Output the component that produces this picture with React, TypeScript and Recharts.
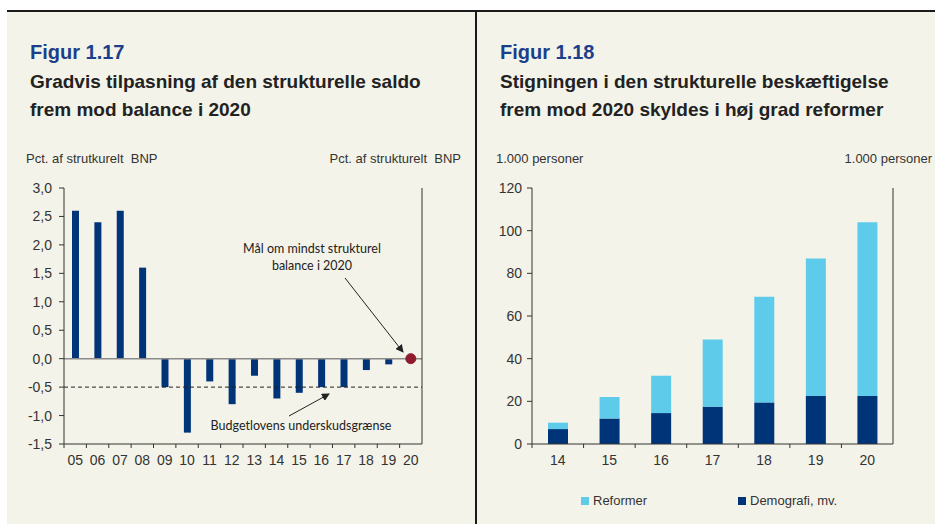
import React from "react";
import {
  ComposedChart,
  BarChart,
  Bar,
  XAxis,
  YAxis,
  ReferenceLine,
  ReferenceDot,
} from "recharts";

// Figur 1.17 - strukturel saldo, pct. af strukturelt BNP
const years = ["05", "06", "07", "08", "09", "10", "11", "12", "13", "14", "15", "16", "17", "18", "19", "20"];
const saldo = [2.6, 2.4, 2.6, 1.6, -0.5, -1.3, -0.4, -0.8, -0.3, -0.7, -0.6, -0.5, -0.5, -0.2, -0.1, null];
const saldoTicks = [-1.5, -1.0, -0.5, 0, 0.5, 1.0, 1.5, 2.0, 2.5, 3.0];
const budgetLimit = -0.5;
const target2020 = 0;

// Figur 1.18 - strukturel beskæftigelse, 1.000 personer
const years2 = ["14", "15", "16", "17", "18", "19", "20"];
const demografi = [7, 12, 14.5, 17.5, 19.5, 22.5, 22.5];
const reformer = [3, 10, 17.5, 31.5, 49.5, 64.5, 81.5];
const personTicks = [0, 20, 40, 60, 80, 100, 120];

const BG = "#f4f3e9";
const DARK = "#003478";
const LIGHT = "#5ecbea";
const TEXT = "#333";
const AXIS_FONT = "'Liberation Sans', Arial, sans-serif";
const TITLE_FONT = "'Liberation Sans Narrow', 'Arial Narrow', 'Liberation Sans', sans-serif";

const saldoData = years.map((y, i) => ({ year: y, saldo: saldo[i] }));
const jobData = years2.map((y, i) => ({ year: y, demografi: demografi[i], reformer: reformer[i] }));

const fmt = (v: number) => v.toFixed(1).replace(".", ",");
const tickStyle = { fontSize: 14, fill: TEXT, fontFamily: AXIS_FONT };

// x tick with small boundary mark to the left of each category
const makeTick = (band: number) => (props: any) => {
  const { x, y, payload } = props;
  const axisY = y - 11;
  return (
    <g>
      <line x1={x - band / 2} x2={x - band / 2} y1={axisY} y2={axisY + 4} stroke={TEXT} />
      <text x={x} y={y} dy="0.71em" textAnchor="middle" {...tickStyle}>
        {payload.value}
      </text>
    </g>
  );
};

const Title = ({ left, fig, l1, l2 }: { left: number; fig: string; l1: string; l2: string }) => (
  <div style={{ position: "absolute", left, top: 40, fontFamily: TITLE_FONT, fontWeight: "bold" }}>
    <div style={{ color: "#1b3f8b", fontSize: 20, lineHeight: "24px" }}>{fig}</div>
    <div style={{ color: "#222", fontSize: 19, lineHeight: "28px", marginTop: 4 }}>{l1}</div>
    <div style={{ color: "#222", fontSize: 19, lineHeight: "28px" }}>{l2}</div>
  </div>
);

const unit = (left: number, text: string, align: "left" | "right" = "left") => (
  <div
    style={{
      position: "absolute",
      top: 151,
      ...(align === "left" ? { left } : { right: left }),
      fontFamily: AXIS_FONT,
      fontSize: 13,
      color: TEXT,
      whiteSpace: "pre",
    }}
  >
    {text}
  </div>
);

export default function App() {
  return (
    <div style={{ position: "absolute", left: 0, top: 0, width: 935, height: 524, background: "#fff", overflow: "hidden" }}>
      <div style={{ position: "absolute", left: 7, top: 10, width: 928, height: 514, background: BG }} />
      <div style={{ position: "absolute", left: 7, top: 10, width: 928, height: 2, background: "#1a1a1a" }} />
      <div style={{ position: "absolute", left: 475, top: 10, width: 2, height: 514, background: "#1a1a1a" }} />

      <Title left={30} fig="Figur 1.17" l1="Gradvis tilpasning af den strukturelle saldo" l2="frem mod balance i 2020" />
      <Title left={500} fig="Figur 1.18" l1="Stigningen i den strukturelle beskæftigelse" l2="frem mod 2020 skyldes i høj grad reformer" />

      {unit(26, "Pct. af strutkurelt  BNP")}
      {unit(935 - 461, "Pct. af strukturelt  BNP", "right")}
      {unit(496, "1.000 personer")}
      {unit(3, "1.000 personer", "right")}

      <div style={{ position: "absolute", left: 0, top: 170 }}>
        <ComposedChart width={470} height={304} data={saldoData} margin={{ top: 18, right: 4, bottom: 0, left: 4 }}>
          <XAxis
            dataKey="year"
            height={30}
            tickLine={false}
            tickSize={4}
            tickMargin={7}
            interval={0}
            stroke={TEXT}
            tick={makeTick(358 / 16)}
          />
          <YAxis
            yAxisId="l"
            width={60}
            domain={[-1.5, 3]}
            ticks={saldoTicks}
            tickFormatter={fmt}
            tickSize={5}
            tickMargin={7}
            stroke={TEXT}
            tick={tickStyle}
          />
          <YAxis
            yAxisId="r"
            orientation="right"
            width={44}
            domain={[-1.5, 3]}
            ticks={saldoTicks}
            tickFormatter={fmt}
            tickSize={5}
            tickMargin={8}
            stroke={TEXT}
            tick={{ ...tickStyle, textAnchor: "start" }}
          />
          <Bar yAxisId="l" dataKey="saldo" fill={DARK} barSize={7} isAnimationActive={false} />
          <ReferenceLine yAxisId="l" y={0} stroke="#8a8a8a" strokeWidth={1.5} />
          <ReferenceLine yAxisId="l" y={budgetLimit} stroke="#222" strokeDasharray="4 3" />
          <ReferenceDot yAxisId="l" x="20" y={target2020} r={5} fill="#8e1b2e" stroke="#8e1b2e" />
        </ComposedChart>
      </div>

      {/* annotations */}
      <svg width={470} height={524} style={{ position: "absolute", left: 0, top: 0, pointerEvents: "none" }}>
        <defs>
          <marker id="ah" markerWidth="8" markerHeight="8" refX="7" refY="4" orient="auto" markerUnits="userSpaceOnUse">
            <path d="M0,0 L8,4 L0,8 z" fill="#222" />
          </marker>
        </defs>
        <text x={312} y={253} textAnchor="middle" fontFamily="Lato, sans-serif" fontSize={12.5} fill="#222">
          Mål om mindst strukturel
        </text>
        <text x={312} y={270} textAnchor="middle" fontFamily="Lato, sans-serif" fontSize={12.5} fill="#222">
          balance i 2020
        </text>
        <line x1={345} y1={278} x2={403} y2={352} stroke="#222" strokeWidth={1} markerEnd="url(#ah)" />
        <text x={301} y={430} textAnchor="middle" fontFamily="Lato, sans-serif" fontSize={12.5} fill="#222">
          Budgetlovens underskudsgrænse
        </text>
        <line x1={289} y1={416} x2={329} y2={394} stroke="#222" strokeWidth={1} markerEnd="url(#ah)" />
      </svg>

      <div style={{ position: "absolute", left: 476, top: 170 }}>
        <BarChart width={459} height={304} data={jobData} margin={{ top: 18, right: 4, bottom: 0, left: 4 }}>
          <XAxis
            dataKey="year"
            height={30}
            tickLine={false}
            tickSize={4}
            tickMargin={7}
            interval={0}
            stroke={TEXT}
            tick={makeTick(361 / 7)}
          />
          <YAxis
            yAxisId="l"
            width={52}
            domain={[0, 120]}
            ticks={personTicks}
            tickSize={5}
            tickMargin={5}
            stroke={TEXT}
            tick={tickStyle}
          />
          <YAxis
            yAxisId="r"
            orientation="right"
            width={38}
            domain={[0, 120]}
            ticks={personTicks}
            tickSize={5}
            tickMargin={8}
            stroke={TEXT}
            tick={{ ...tickStyle, textAnchor: "start" }}
          />
          <Bar yAxisId="l" dataKey="demografi" stackId="a" fill={DARK} barSize={20} isAnimationActive={false} />
          <Bar yAxisId="l" dataKey="reformer" stackId="a" fill={LIGHT} barSize={20} isAnimationActive={false} />
        </BarChart>
      </div>

      {/* legend */}
      <div style={{ position: "absolute", left: 581, top: 493, fontFamily: AXIS_FONT, fontSize: 13, color: TEXT, display: "flex", alignItems: "center" }}>
        <span style={{ width: 8, height: 8, background: LIGHT, marginRight: 4, display: "inline-block" }} />
        Reformer
      </div>
      <div style={{ position: "absolute", left: 738, top: 493, fontFamily: AXIS_FONT, fontSize: 13, color: TEXT, display: "flex", alignItems: "center" }}>
        <span style={{ width: 8, height: 8, background: DARK, marginRight: 4, display: "inline-block" }} />
        Demografi, mv.
      </div>
    </div>
  );
}
